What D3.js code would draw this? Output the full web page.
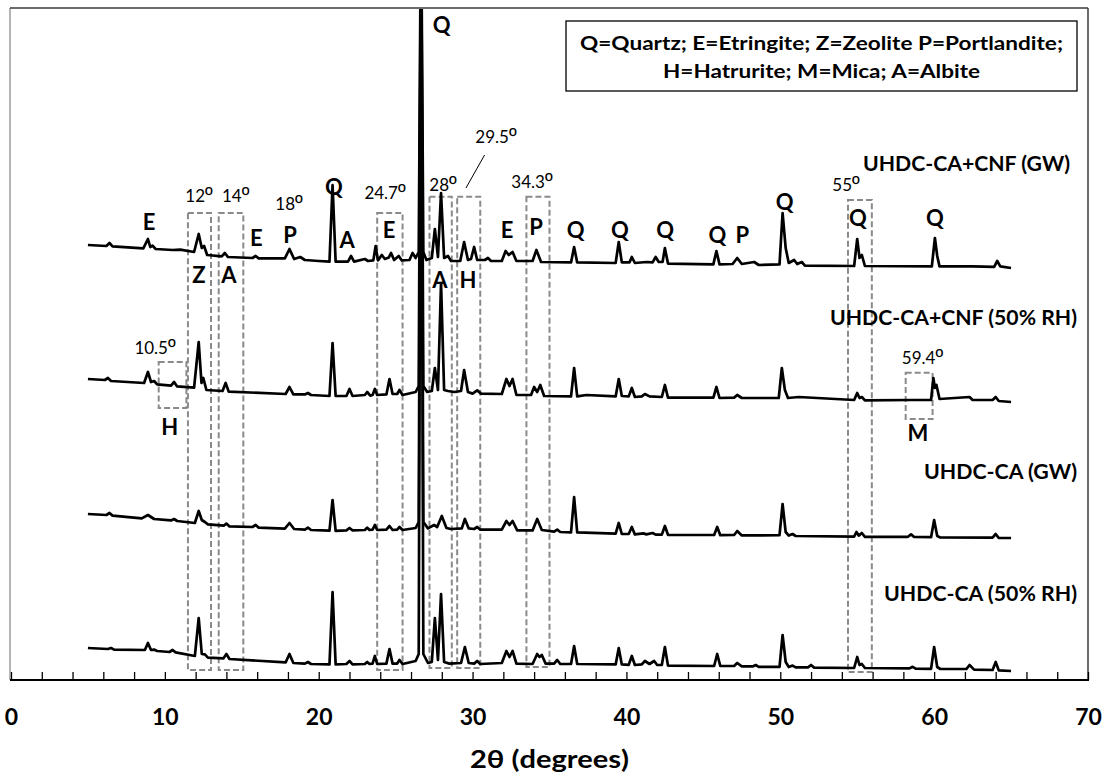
<!DOCTYPE html>
<html>
<head>
<meta charset="utf-8">
<script src="https://cdn.jsdelivr.net/npm/d3@7"></script>
<style>
  html, body { margin: 0; padding: 0; background: #fff; }
  svg { display: block; }
  text { font-family: Lato, "Noto Sans", "DejaVu Sans", sans-serif; fill: #000; }
  .ord { font-family: "Liberation Sans", Arial, sans-serif; }
</style>
</head>
<body>
<svg id="chart" width="1109" height="776"></svg>
<script>
// XRD patterns, 2θ (degrees) vs intensity (counts, stacked with vertical offsets)
const cnfGW = [
  [5.0,2175],[6.2,2170],[6.4,2185],[6.6,2168],[8.6,2158],[8.9,2205],[9.05,2165],[9.2,2172],[9.4,2155],
  [10.5,2150],[11.0,2152],[11.9,2140],[12.2,2230],[12.4,2160],[12.55,2170],[12.75,2125],[13.7,2118],
  [13.9,2135],[14.1,2115],[15.7,2110],[15.9,2120],[16.1,2108],[17.8,2108],[18.1,2155],[18.4,2105],
  [18.8,2115],[19.1,2100],[20.0,2095],[20.7,2092],[20.9,2475],[21.1,2092],[21.9,2092],[22.1,2120],
  [22.3,2092],[23.0,2105],[23.2,2095],[23.55,2098],[23.7,2170],[23.85,2098],[24.1,2125],[24.3,2105],
  [24.55,2112],[24.7,2135],[24.9,2100],[25.2,2120],[25.4,2098],[25.9,2100],[26.1,2135],[26.3,2110],
  [26.5,2140],[26.65,3900],[26.8,2140],[27.0,2100],[27.35,2110],[27.55,2255],[27.75,2115],[27.95,2435],
  [28.15,2110],[28.4,2120],[28.6,2095],[29.2,2095],[29.45,2190],[29.7,2100],[29.9,2105],[30.1,2165],
  [30.3,2100],[30.8,2100],[31.0,2110],[31.2,2095],[31.9,2095],[32.15,2145],[32.35,2125],[32.6,2140],
  [32.85,2095],[33.9,2095],[34.15,2150],[34.45,2090],[36.4,2088],[36.6,2165],[36.8,2088],[39.3,2085],
  [39.5,2190],[39.7,2088],[40.2,2088],[40.35,2115],[40.55,2085],[41.3,2090],[41.7,2088],[41.9,2115],
  [42.1,2090],[42.35,2090],[42.5,2160],[42.7,2082],[45.65,2078],[45.85,2145],[46.05,2078],[46.9,2080],
  [47.2,2110],[47.5,2080],[48.3,2090],[48.6,2075],[49.95,2078],[50.15,2335],[50.35,2160],[50.55,2085],
  [50.9,2100],[51.1,2080],[51.4,2090],[51.6,2072],[54.8,2070],[55.0,2205],[55.15,2110],[55.3,2125],
  [55.5,2070],[59.85,2068],[60.05,2210],[60.2,2120],[60.35,2068],[61.5,2068],[62.5,2068],[63.9,2066],
  [64.1,2095],[64.3,2068],[65.0,2060]
];

const cnfRH = [
  [5.0,1505],[6.1,1500],[6.3,1510],[6.5,1495],[8.65,1485],[8.9,1540],[9.1,1490],[9.3,1495],[9.5,1478],
  [10.4,1472],[10.6,1490],[10.8,1468],[11.9,1462],[12.2,1690],[12.38,1485],[12.5,1510],[12.7,1450],
  [13.75,1445],[13.95,1485],[14.15,1442],[17.85,1430],[18.1,1465],[18.35,1428],[19.1,1428],[19.3,1435],
  [19.5,1425],[20.7,1420],[20.9,1685],[21.1,1420],[21.8,1420],[22.0,1455],[22.2,1420],[23.0,1425],
  [23.15,1440],[23.35,1422],[23.5,1425],[23.65,1455],[23.8,1425],[24.4,1428],[24.6,1505],[24.8,1430],
  [25.1,1430],[25.25,1450],[25.45,1425],[26.3,1440],[26.5,1470],[26.65,3900],[26.8,1470],[27.05,1440],
  [27.35,1445],[27.55,1560],[27.75,1450],[27.95,1985],[28.15,1450],[28.4,1445],[28.8,1440],[29.25,1445],
  [29.45,1550],[29.7,1440],[30.0,1432],[30.3,1448],[30.55,1432],[31.9,1430],[32.2,1505],[32.4,1470],
  [32.6,1505],[32.85,1425],[33.8,1425],[34.0,1465],[34.2,1440],[34.4,1475],[34.65,1420],[36.4,1418],
  [36.6,1560],[36.8,1418],[37.4,1425],[39.3,1418],[39.5,1505],[39.7,1420],[40.15,1418],[40.35,1460],
  [40.55,1415],[41.0,1418],[41.2,1430],[41.5,1418],[42.3,1415],[42.5,1475],[42.7,1412],[45.65,1412],
  [45.85,1465],[46.05,1410],[47.0,1412],[47.2,1425],[47.5,1410],[49.9,1410],[50.1,1560],[50.3,1450],
  [50.5,1410],[51.2,1415],[54.8,1400],[55.0,1435],[55.15,1410],[55.3,1415],[55.5,1398],[58.5,1400],
  [59.8,1400],[59.95,1510],[60.05,1460],[60.15,1475],[60.35,1405],[62.3,1415],[62.5,1400],[63.8,1400],
  [64.0,1415],[64.2,1395],[65.0,1390]
];

const caGW = [
  [5.0,830],[6.2,825],[6.4,835],[6.6,822],[8.5,808],[8.9,825],[9.3,805],[10.4,798],[10.6,805],[10.8,795],
  [11.95,785],[12.2,845],[12.4,800],[12.6,790],[12.8,778],[13.85,772],[14.0,782],[14.2,768],[15.7,765],
  [15.9,775],[16.1,762],[17.8,757],[18.1,785],[18.4,755],[19.1,752],[19.3,762],[19.5,750],[20.7,747],
  [20.9,900],[21.1,746],[21.8,748],[22.0,760],[22.2,748],[23.0,750],[23.15,762],[23.3,750],[23.5,752],
  [23.65,775],[23.8,750],[24.4,752],[24.6,770],[24.8,750],[25.1,752],[25.25,765],[25.45,750],[26.3,760],
  [26.5,790],[26.65,3900],[26.8,790],[27.1,758],[27.5,775],[27.7,765],[28.0,820],[28.3,760],[28.6,755],
  [29.3,758],[29.5,805],[29.75,758],[30.1,755],[30.3,765],[30.5,752],[31.9,752],[32.2,795],[32.4,775],
  [32.6,795],[32.9,748],[33.9,748],[34.2,805],[34.5,750],[35.3,742],[35.5,752],[35.7,740],[36.4,738],
  [36.6,915],[36.8,738],[39.3,732],[39.5,785],[39.7,730],[40.15,730],[40.35,765],[40.55,728],[41.1,733],
  [41.3,728],[41.7,735],[41.9,727],[42.3,727],[42.5,770],[42.7,726],[45.7,725],[45.9,765],[46.1,724],
  [47.0,725],[47.2,745],[47.5,723],[49.95,724],[50.15,880],[50.35,740],[50.55,722],[50.8,730],[51.0,720],
  [54.8,717],[54.95,740],[55.1,722],[55.3,735],[55.5,716],[58.3,716],[58.5,728],[58.7,715],[59.8,714],
  [60.0,800],[60.2,720],[60.4,713],[63.8,712],[64.0,730],[64.2,710],[65.0,710]
];

const caRH = [
  [5.0,160],[6.3,155],[6.5,160],[6.7,152],[8.7,150],[8.9,185],[9.1,150],[9.3,152],[9.5,145],[10.3,140],
  [10.5,150],[10.7,138],[11.95,120],[12.2,310],[12.4,130],[12.6,128],[12.8,112],[13.8,108],[14.0,130],
  [14.2,105],[17.85,88],[18.1,130],[18.35,85],[19.1,82],[19.3,90],[19.5,80],[20.7,78],[20.9,440],
  [21.1,78],[21.8,80],[22.0,95],[22.2,78],[23.0,80],[23.15,90],[23.3,80],[23.5,82],[23.65,120],[23.8,80],
  [24.4,82],[24.6,155],[24.8,82],[25.1,82],[25.25,100],[25.45,80],[26.3,95],[26.5,130],[26.65,3900],
  [26.8,130],[27.1,85],[27.35,90],[27.55,310],[27.75,100],[27.95,430],[28.15,90],[28.5,82],[29.25,85],
  [29.5,165],[29.75,85],[30.1,82],[30.3,95],[30.5,80],[31.9,85],[32.2,145],[32.4,115],[32.6,145],
  [32.85,82],[33.9,80],[34.2,130],[34.35,115],[34.5,125],[34.75,82],[35.3,82],[35.5,100],[35.7,80],
  [36.4,80],[36.6,170],[36.8,80],[39.3,78],[39.5,160],[39.7,78],[40.15,76],[40.35,120],[40.55,75],
  [41.0,78],[41.2,95],[41.5,80],[41.8,95],[42.0,75],[42.3,75],[42.5,165],[42.7,72],[45.7,70],[45.9,130],
  [46.1,70],[47.0,70],[47.2,85],[47.5,68],[48.2,68],[48.4,75],[48.6,66],[49.95,66],[50.15,225],
  [50.35,90],[50.55,65],[50.8,72],[51.0,63],[51.8,63],[52.0,75],[52.2,62],[54.8,60],[55.0,115],
  [55.15,75],[55.3,80],[55.5,60],[58.4,58],[58.6,66],[58.8,57],[59.8,56],[60.0,165],[60.2,65],
  [60.4,55],[62.1,55],[62.3,75],[62.6,52],[63.8,50],[64.0,90],[64.2,48],[65.0,45]
];

const seriesNames = ["UHDC-CA+CNF (GW)", "UHDC-CA+CNF (50% RH)", "UHDC-CA (GW)", "UHDC-CA (50% RH)"];
const seriesData = [cnfGW, cnfRH, caGW, caRH];

// x axis ticks
const minorTicks = d3.range(0, 71, 2);
const majorTicks = [0, 10, 20, 30, 40, 50, 60, 70];

// highlighted 2θ windows: [from, to, upper, lower] in (2θ, counts)
const windows = [
  [11.5, 13.0, 2335, 50],
  [13.5, 15.1, 2335, 50],
  [23.8, 25.45, 2335, 50],
  [27.2, 28.65, 2416, 60],
  [29.0, 30.5, 2416, 60],
  [33.5, 35.0, 2416, 65],
  [54.4, 55.95, 2400, 40],
  [9.6, 11.4, 1590, 1360],
  [58.15, 59.9, 1536, 1305]
];

// angle labels for the windows [2θ, counts, value]
const angleLabels = [
  [12.22, 2420, "12"], [14.6, 2420, "14"], [18.07, 2380, "18"], [24.31, 2435, "24.7"],
  [28.08, 2475, "28"], [31.52, 2715, "29.5"], [33.86, 2490, "34.3"], [54.27, 2475, "55"],
  [9.36, 1660, "10.5"], [59.24, 1610, "59.4"]
];
// leader from the 29.5º label down to its window
const leader = [[30.78, 2625], [29.57, 2460]];

// phase identification letters [2θ, counts, letter]
const phaseLabels = [
  [8.97, 2290, "E"], [12.22, 2025, "Z"], [14.17, 2025, "A"], [15.95, 2210, "E"], [18.13, 2225, "P"],
  [20.99, 2465, "Q"], [21.84, 2200, "A"], [24.57, 2250, "E"], [27.88, 2000, "A"], [29.7, 2000, "H"],
  [32.24, 2250, "E"], [34.12, 2265, "P"], [36.7, 2250, "Q"], [39.58, 2250, "Q"], [42.51, 2250, "Q"],
  [45.92, 2225, "Q"], [47.54, 2225, "P"], [50.28, 2390, "Q"], [55.05, 2310, "Q"], [60.05, 2310, "Q"],
  [27.99, 3275, "Q"], [10.31, 1265, "H"], [58.95, 1235, "M"]
];

// sample name positions (counts at label centre)
const nameLevels = [2585, 1815, 1045, 435];

const legendLines = [
  "Q=Quartz; E=Etringite; Z=Zeolite P=Portlandite;",
  "H=Hatrurite; M=Mica; A=Albite"
];

const svg = d3.select("#chart");
const plotLeft = 11, plotRight = 1088, plotTop = 8, plotBottom = 680;

const x = d3.scaleLinear().domain([0, 70]).range([plotLeft, plotRight]);
const y = d3.scaleLinear().domain([0, 3360]).range([plotBottom, plotTop]);

svg.append("defs").append("clipPath").attr("id", "plotClip")
  .append("rect").attr("x", plotLeft).attr("y", plotTop + 1)
  .attr("width", plotRight - plotLeft).attr("height", plotBottom - plotTop - 1);

// frame
svg.append("line").attr("x1", 10).attr("x2", 10).attr("y1", plotTop).attr("y2", plotBottom)
  .attr("stroke", "#b4b4b4").attr("stroke-width", 2);
svg.append("line").attr("x1", 10).attr("x2", plotRight).attr("y1", plotTop).attr("y2", plotTop)
  .attr("stroke", "#3a3a3a").attr("stroke-width", 1.5);
svg.append("line").attr("x1", plotRight).attr("x2", plotRight).attr("y1", plotTop).attr("y2", plotBottom)
  .attr("stroke", "#3a3a3a").attr("stroke-width", 1.5);

// dashed windows
svg.append("g").selectAll("rect").data(windows).join("rect")
  .attr("x", d => x(d[0])).attr("y", d => y(d[2]))
  .attr("width", d => x(d[1]) - x(d[0])).attr("height", d => y(d[3]) - y(d[2]))
  .attr("fill", "none").attr("stroke", "#8a8a8a").attr("stroke-width", 2)
  .attr("stroke-dasharray", "6,3");

// patterns
const line = d3.line().x(d => x(d[0])).y(d => y(d[1]));
svg.append("g").attr("clip-path", "url(#plotClip)")
  .selectAll("path").data(seriesData).join("path")
  .attr("d", line).attr("fill", "none").attr("stroke", "#000")
  .attr("stroke-width", 2.7).attr("stroke-linejoin", "round");

// x axis
const gMinor = svg.append("g").attr("transform", `translate(0,${plotBottom})`)
  .call(d3.axisBottom(x).tickValues(minorTicks).tickSizeInner(-8).tickSizeOuter(0).tickFormat(""));
gMinor.select(".domain").attr("stroke", "#000").attr("stroke-width", 2)
  .attr("d", `M10,0H${plotRight + 1}`);
gMinor.selectAll(".tick line").attr("stroke", "#000").attr("stroke-width", 1.3);

const gMajor = svg.append("g").attr("transform", `translate(0,${plotBottom})`)
  .call(d3.axisBottom(x).tickValues(majorTicks).tickSize(0).tickPadding(29).tickFormat(d3.format("d")));
gMajor.select(".domain").remove();
gMajor.selectAll("text").attr("font-size", 23).attr("font-weight", 700)
  .attr("font-family", "Lato, sans-serif").attr("fill", "#000");

svg.append("text").attr("x", (plotLeft + plotRight) / 2).attr("y", 760).attr("dy", "0.35em")
  .attr("text-anchor", "middle").attr("font-size", 24).attr("font-weight", 700)
  .attr("textLength", 159).attr("lengthAdjust", "spacingAndGlyphs")
  .text("2θ (degrees)");

// angle annotations (value followed by the ordinal degree sign)
const ang = svg.append("g").selectAll("text").data(angleLabels).join("text")
  .attr("x", d => x(d[0])).attr("y", d => y(d[1])).attr("dy", "0.35em")
  .attr("text-anchor", "middle").attr("font-size", 17);
ang.append("tspan").text(d => d[2]);
ang.append("tspan").attr("class", "ord").attr("font-size", 21).text("º");

svg.append("line")
  .attr("x1", x(leader[0][0])).attr("y1", y(leader[0][1]))
  .attr("x2", x(leader[1][0])).attr("y2", y(leader[1][1]))
  .attr("stroke", "#000").attr("stroke-width", 1);

svg.append("g").selectAll("text").data(phaseLabels).join("text")
  .attr("x", d => x(d[0])).attr("y", d => y(d[1])).attr("dy", "0.36em")
  .attr("text-anchor", "middle").attr("font-size", 22).attr("font-weight", 700).text(d => d[2]);

// sample names
const nameWidths = [207, 247, 153, 193];
const nameRight = [1070, 1077, 1077, 1077];
svg.append("g").selectAll("text").data(seriesNames).join("text")
  .attr("x", (d, i) => nameRight[i]).attr("y", (d, i) => y(nameLevels[i])).attr("dy", "0.36em")
  .attr("text-anchor", "end").attr("font-size", 21).attr("font-weight", 700)
  .attr("textLength", (d, i) => nameWidths[i]).attr("lengthAdjust", "spacingAndGlyphs")
  .text(d => d);

// legend box
const lg = svg.append("g");
lg.append("rect").attr("x", 566).attr("y", 21).attr("width", 511).attr("height", 70)
  .attr("fill", "#fff").attr("stroke", "#000").attr("stroke-width", 1.3);
const legendWidths = [483, 317];
lg.selectAll("text").data(legendLines).join("text")
  .attr("x", 821.5).attr("y", (d, i) => 43 + i * 28).attr("dy", "0.36em")
  .attr("text-anchor", "middle").attr("font-size", 19).attr("font-weight", 700)
  .attr("textLength", (d, i) => legendWidths[i]).attr("lengthAdjust", "spacingAndGlyphs")
  .text(d => d);
</script>
</body>
</html>
